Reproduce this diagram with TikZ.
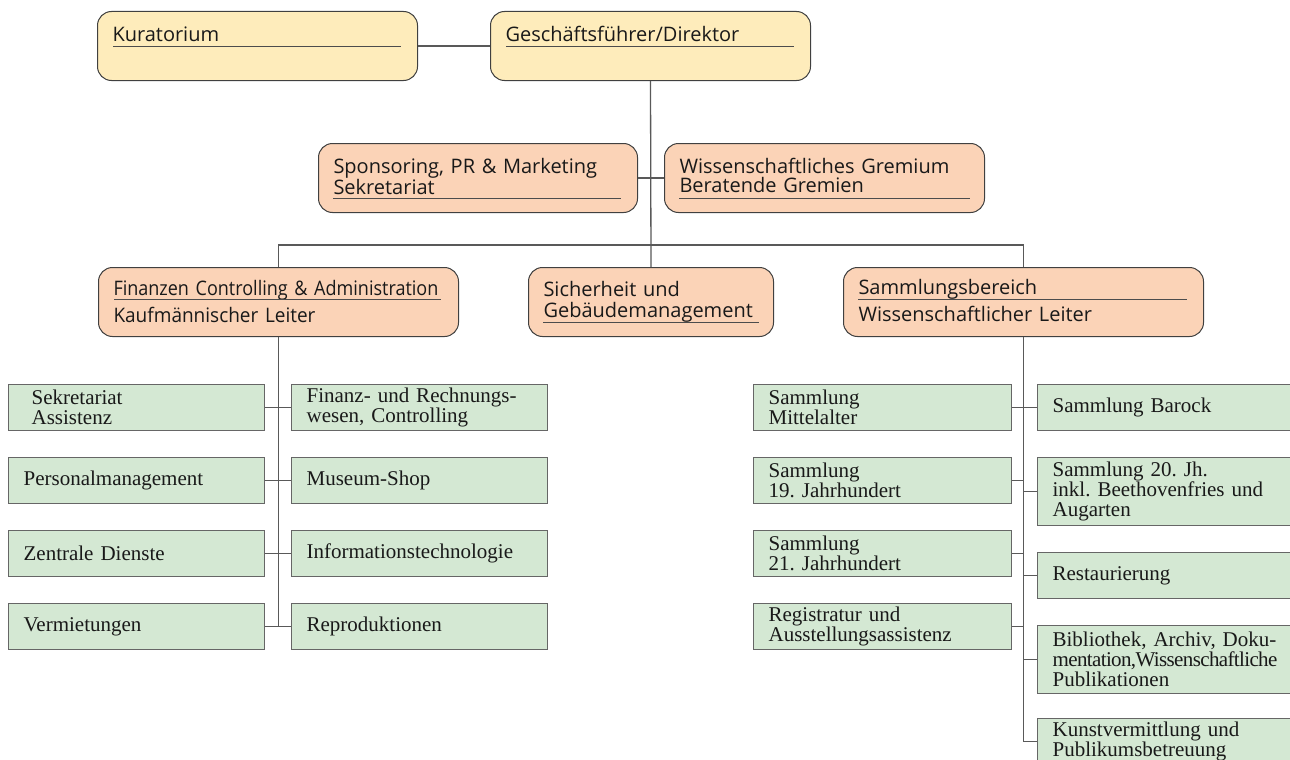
\documentclass[tikz,border=0pt]{standalone}
\usepackage{fontspec}
\setmainfont{Liberation Serif}
\setsansfont{Open Sans}
\usepackage{xcolor}
\usepackage{tikz}
\usetikzlibrary{positioning}
\frenchspacing
\definecolor{headyellow}{RGB}{254,236,187}
\definecolor{unitorange}{RGB}{251,211,183}
\definecolor{deptgreen}{RGB}{212,232,211}
\tikzstyle{head} = [rectangle, rounded corners=14pt, draw=black!75, line width=1pt, anchor=north west, align=left, inner xsep=15pt, inner ysep=0pt, font=\sffamily\fontsize{20}{19}\selectfont, text=black!90]
\tikzstyle{dept} = [rectangle, draw=black!60, line width=1.2pt, fill=deptgreen, anchor=north west, align=left, inner xsep=15pt, inner ysep=0pt, minimum height=46pt, font=\fontsize{21}{20}\selectfont, text=black!90]
\tikzstyle{link} = [draw=black!65, line width=1.3pt]
\tikzstyle{uline} = [draw=black!70, line width=0.9pt]

\begin{document}
\begin{tikzpicture}[x=1pt, y=-1pt]
    \tikzstyle{ldept} = [dept, minimum width=256pt, text width=226pt]
    \tikzstyle{mdept} = [dept, minimum width=258pt, text width=228pt]
    \tikzstyle{rdept} = [dept, minimum width=300pt, text width=270pt]

    \path[use as bounding box, fill=white] (0,0) rectangle (1290,760);

      % Nodes
    \node (kur) [head, fill=headyellow, text width=290pt, text height=30pt, text depth=39pt] at (97,11) {Kuratorium};
    \node (gf) [head, fill=headyellow, text width=290pt, text height=30pt, text depth=39pt] at (490,11) {Geschäftsführer/Direktor};
    \node (spon) [head, fill=unitorange, text width=289pt, text height=30pt, text depth=39pt] at (318,143) {Sponsoring, PR \& Marketing\\Sekretariat};
    \node (wiss) [head, fill=unitorange, text width=290pt, text height=30pt, text depth=39pt] at (664,143) {Wissenschaftliches Gremium\\Beratende Gremien};
    \node (fin) [head, fill=unitorange, text width=330pt, text height=28pt, text depth=41pt] at (98,267) {{\addfontfeature{FakeStretch=0.9}Finanzen Controlling \& Administration}\\[6pt]{\addfontfeature{FakeStretch=0.95}Kaufmännischer Leiter}};
    \node (sich) [head, fill=unitorange, text width=215pt, text height=29pt, text depth=40pt] at (528,267) {Sicherheit und\\[2pt]Gebäudemanagement};
    \node (samm) [head, fill=unitorange, text width=330pt, text height=27pt, text depth=42pt] at (843,267) {Sammlungsbereich\\[6pt]Wissenschaftlicher Leiter};

    % Underlines
    \draw[uline] ([xshift=16pt,yshift=-35pt]kur.north west) -- ([xshift=-17pt,yshift=-35pt]kur.north east);
    \draw[uline] ([xshift=16pt,yshift=-35pt]gf.north west) -- ([xshift=-17pt,yshift=-35pt]gf.north east);
    \draw[uline] ([xshift=15pt,yshift=-55pt]spon.north west) -- ([xshift=-17pt,yshift=-55pt]spon.north east);
    \draw[uline] ([xshift=15pt,yshift=-55pt]wiss.north west) -- ([xshift=-15pt,yshift=-55pt]wiss.north east);
    \draw[uline] ([xshift=16pt,yshift=-32pt]fin.north west) -- ([xshift=-18pt,yshift=-32pt]fin.north east);
    \draw[uline] ([xshift=15pt,yshift=-55pt]sich.north west) -- ([xshift=-15pt,yshift=-55pt]sich.north east);
    \draw[uline] ([xshift=15pt,yshift=-32pt]samm.north west) -- ([xshift=-17pt,yshift=-32pt]samm.north east);

    % Finanzen departments
    \node (sek) [ldept, inner xsep=23pt, text width=210pt] at (8,384) {Sekretariat\\Assistenz};
    \node (pers) [ldept] at (8,457) {Personalmanagement};
    \node (zd) [ldept] at (8,530) {Zentrale Dienste};
    \node (verm) [ldept] at (8,603) {Vermietungen};
    \node (frw) [ldept] at (291,384) {Finanz- und Rechnungs-\\wesen, Controlling};
    \node (shop) [ldept] at (291,457) {Museum-Shop};
    \node (it) [ldept] at (291,530) {Informationstechnologie};
    \node (repro) [ldept] at (291,603) {Reproduktionen};

    % Sammlung departments
    \node (smit) [mdept] at (753,384) {Sammlung\\Mittelalter};
    \node (s19) [mdept] at (753,457) {Sammlung\\19. Jahrhundert};
    \node (s21) [mdept] at (753,530) {Sammlung\\21. Jahrhundert};
    \node (reg) [mdept] at (753,603) {Registratur und\\Ausstellungsassistenz};
    \node (sbar) [rdept] at (1037,384) {Sammlung Barock};
    \node (s20) [rdept, minimum height=68pt] at (1037,457) {Sammlung 20. Jh.\\inkl. Beethovenfries und\\Augarten};
    \node (rest) [rdept] at (1037,552) {Restaurierung};
    \node (bib) [rdept, minimum height=68pt] at (1037,625) {Bibliothek, Archiv, Doku-\\{\addfontfeature{LetterSpace=-3}mentation,Wissenschaftliche}\\Publikationen};
    \node (kunst) [rdept] at (1037,718) {Kunstvermittlung und\\Publikumsbetreuung};

    % Lines
    \coordinate (bar) at (650,245);
    \draw[link] (kur.east) -- (gf.west);
    \draw[link] (gf.south) -- (sich.north);
    \draw[link] (spon.east) -- (wiss.west);
    \draw[link] (fin.north) |- (bar) -| (samm.north);

    \draw[link] (fin.south) -- (fin.south |- verm.east);
    \draw[link] (sek.east) -- (frw.west);
    \draw[link] (pers.east) -- (shop.west);
    \draw[link] (zd.east) -- (it.west);
    \draw[link] (verm.east) -- (repro.west);

    \draw[link] (samm.south) -- (samm.south |- kunst.west);
    \draw[link] (smit.east) -- (sbar.west);
    \draw[link] (s19.east) -- (s19.east -| samm.south);
    \draw[link] (s21.east) -- (s21.east -| samm.south);
    \draw[link] (reg.east) -- (reg.east -| samm.south);
    \draw[link] (s20.west -| samm.south) -- (s20.west);
    \draw[link] (rest.west -| samm.south) -- (rest.west);
    \draw[link] (bib.west -| samm.south) -- (bib.west);
    \draw[link] (kunst.west -| samm.south) -- (kunst.west);

    \end{tikzpicture}
\end{document}
